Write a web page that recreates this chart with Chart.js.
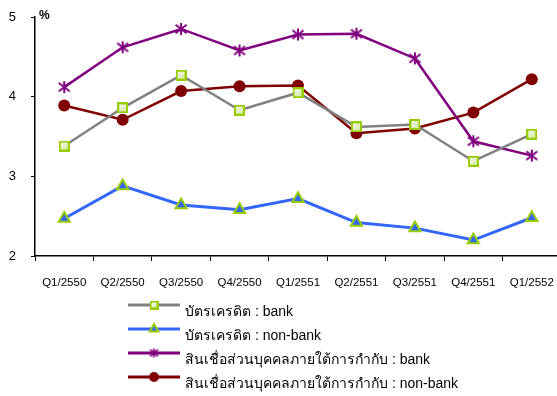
<!DOCTYPE html>
<html>
<head>
<meta charset="utf-8">
<script src="https://cdn.jsdelivr.net/npm/chart.js@4/dist/chart.umd.min.js"></script>
<style>
html,body{margin:0;padding:0;background:#fff;overflow:hidden;}
#wrap{width:562px;height:396px;}
</style>
</head>
<body>
<div id="wrap"><canvas id="c" width="562" height="396"></canvas></div>
<script>
const categories = ['Q1/2550','Q2/2550','Q3/2550','Q4/2550','Q1/2551','Q2/2551','Q3/2551','Q4/2551','Q1/2552'];
const seriesNames = [
  'บัตรเครดิต : bank',
  'บัตรเครดิต : non-bank',
  'สินเชื่อส่วนบุคคลภายใต้การกำกับ : bank',
  'สินเชื่อส่วนบุคคลภายใต้การกำกับ : non-bank'
];
const cardBank     = [3.38, 3.86, 4.27, 3.83, 4.05, 3.62, 3.65, 3.19, 3.53];
const cardNonBank  = [2.47, 2.88, 2.64, 2.58, 2.72, 2.42, 2.35, 2.20, 2.48];
const loanBank     = [4.12, 4.62, 4.85, 4.58, 4.78, 4.79, 4.48, 3.44, 3.26];
const loanNonBank  = [3.89, 3.71, 4.07, 4.13, 4.14, 3.54, 3.60, 3.80, 4.22];
const yTicks = [2, 3, 4, 5];

const FONT = 'Liberation Sans, Arial, sans-serif';

function makeSquare(n){
  const c = document.createElement('canvas'); c.width = n; c.height = n;
  const g = c.getContext('2d');
  g.fillStyle = '#99cc00'; g.fillRect(0,0,n,n);
  const gr = g.createLinearGradient(2,2,n-2,n-2);
  gr.addColorStop(0,'#f4f9e6'); gr.addColorStop(1,'#d4e8a8');
  g.fillStyle = gr; g.fillRect(2,2,n-4,n-4);
  return c;
}
function makeStar(n, w){
  const c = document.createElement('canvas'); c.width = n; c.height = n;
  const g = c.getContext('2d');
  const m = n/2;
  g.strokeStyle = '#800080'; g.lineWidth = w;
  g.beginPath();
  g.moveTo(m,1); g.lineTo(m,n-1);
  g.moveTo(1.5,n*0.2); g.lineTo(n-1.5,n*0.8);
  g.moveTo(n-1.5,n*0.2); g.lineTo(1.5,n*0.8);
  g.stroke();
  return c;
}
const sq = makeSquare(11), sqSmall = makeSquare(9);
const star = makeStar(14, 2), starSmall = makeStar(11, 1.8);

const datasets = [
  {label: seriesNames[0], data: cardBank, borderColor:'#808080', borderWidth:2.5,
   pointStyle: sq, pointRadius:6, backgroundColor:'#e0f0c0', legendStyle: sqSmall, legendRadius:5},
  {label: seriesNames[1], data: cardNonBank, borderColor:'#3366ff', borderWidth:3,
   pointStyle:'triangle', pointRadius:6.5, pointBackgroundColor:'#3366ff', pointBorderColor:'#99cc00', pointBorderWidth:2, backgroundColor:'#3366ff', legendStyle:'triangle', legendRadius:5},
  {label: seriesNames[2], data: loanBank, borderColor:'#800080', borderWidth:2.5,
   pointStyle: star, pointRadius:7, backgroundColor:'#800080', legendStyle: starSmall, legendRadius:5},
  {label: seriesNames[3], data: loanNonBank, borderColor:'#800000', borderWidth:2.5,
   pointStyle:'circle', pointRadius:6, pointBackgroundColor:'#800000', pointBorderColor:'#800000', pointBorderWidth:0, backgroundColor:'#800000', legendStyle:'circle', legendRadius:5}
];
datasets.forEach(d=>{ d.tension = 0; d.fill = false; d.pointHoverRadius = d.pointRadius; d.clip = false; });

const extras = {
  id:'extras',
  afterDraw(chart){
    const ctx = chart.ctx;
    const ca = chart.chartArea;
    ctx.save();
    ctx.fillStyle = '#000';
    ctx.font = 'bold 12px ' + FONT;
    ctx.textBaseline = 'top';
    ctx.textAlign = 'left';
    ctx.fillText('%', ca.left + 4, 10);
    const x0 = 128, x1 = 180, tx = 185;
    const rows = [305, 329, 353, 377];
    chart.data.datasets.forEach((ds, i) => {
      const y = rows[i];
      ctx.strokeStyle = ds.borderColor; ctx.lineWidth = 3;
      ctx.beginPath(); ctx.moveTo(x0, y); ctx.lineTo(x1, y); ctx.stroke();
      const opts = chart.getDatasetMeta(i).data[0].options;
      ctx.fillStyle = opts.backgroundColor;
      ctx.strokeStyle = opts.borderColor;
      ctx.lineWidth = opts.borderWidth;
      Chart.helpers.drawPoint(ctx, {
        pointStyle: ds.legendStyle, radius: ds.legendRadius, rotation: 0,
        borderWidth: opts.borderWidth
      }, (x0+x1)/2, y);
      ctx.fillStyle = '#000';
      ctx.font = '14px ' + FONT;
      ctx.textBaseline = 'alphabetic';
      ctx.fillText(ds.label, tx, y + 11);
    });
    ctx.restore();
  }
};

new Chart(document.getElementById('c'), {
  type:'line',
  data:{labels: categories, datasets},
  options:{
    responsive:false,
    animation:false,
    layout:{autoPadding:false, padding:{top:17, right:1, bottom:100, left:0}},
    plugins:{legend:{display:false}, tooltip:{enabled:false}},
    scales:{
      x:{
        offset:true,
        grid:{display:true, drawOnChartArea:false, drawTicks:true, tickLength:5, color:'#000', offset:true},
        border:{display:true, color:'#000', width:1.5},
        ticks:{color:'#000', font:{family:FONT, size:11.5}, padding:15, maxRotation:0, autoSkip:false},
        afterFit(s){ s.height = 40; s.paddingLeft = 0; s.paddingRight = 0; }
      },
      y:{
        min:2, max:5,
        afterBuildTicks(s){ s.ticks = yTicks.map(v=>({value:v})); },
        grid:{display:true, drawOnChartArea:false, drawTicks:true, tickLength:4, color:'#000'},
        border:{display:true, color:'#000', width:1.5},
        ticks:{color:'#000', font:{family:FONT, size:13}, padding:15},
        afterFit(s){ s.width = 35; s.paddingTop = 0; s.paddingBottom = 0; }
      }
    }
  },
  plugins:[extras]
});
</script>
</body>
</html>
